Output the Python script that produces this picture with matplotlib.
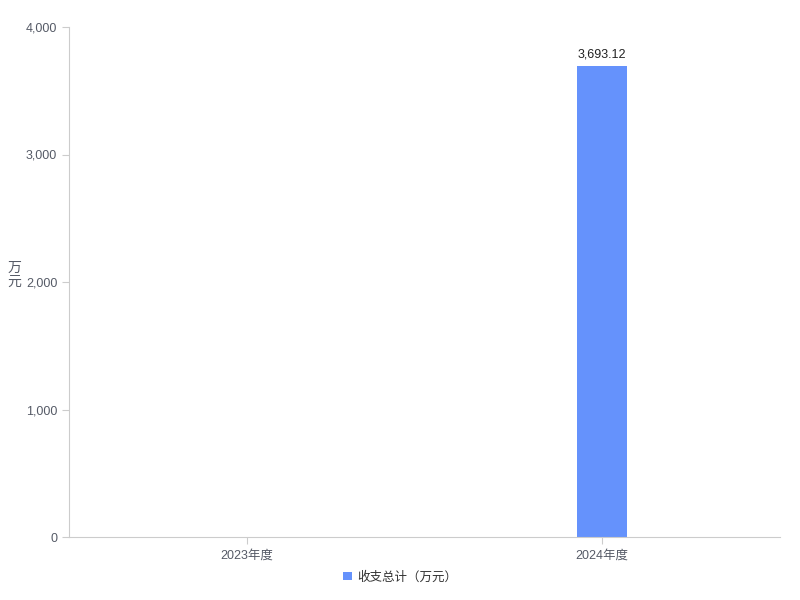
import numpy as np
import matplotlib
matplotlib.use("Agg")
from matplotlib import pyplot as plt
from matplotlib.ticker import FuncFormatter

plt.rcParams['font.family'] = ['Liberation Sans', 'Noto Sans CJK SC', 'DejaVu Sans']

categories = ["2023年度", "2024年度"]
values = [0, 3693.12]
series_name = "收支总计（万元）"
y_ticks = [0, 1000, 2000, 3000, 4000]

bar_color = "#6592fc"
axis_color = "#cccccc"
text_color = "#555a66"

fig = plt.figure(figsize=(8, 6), dpi=100)
ax = fig.add_axes([0.08625, 0.105, 0.88875, 0.85])

x = np.arange(len(categories))
bars = ax.bar(x, values, width=0.14, color=bar_color, label=series_name)

# value label only where there is a bar
for xi, v in zip(x, values):
    if v > 0:
        ax.text(xi, v + 45, f"{v:,.2f}", ha="center", va="bottom",
                fontsize=9, color="#222222")

ax.set_xlim(-0.5, len(categories) - 0.5)
ax.set_ylim(0, 4000)
ax.set_xticks(x)
ax.set_xticklabels(categories, fontsize=9, color=text_color)
ax.set_yticks(y_ticks)
ax.yaxis.set_major_formatter(FuncFormatter(lambda v, p: f"{int(v):,}"))
ax.tick_params(axis="y", labelsize=9, labelcolor=text_color, color=axis_color,
               length=5, width=0.8)
ax.tick_params(axis="x", color=axis_color, length=5, width=0.8, pad=4)

for side in ["top", "right"]:
    ax.spines[side].set_visible(False)
ax.spines["left"].set_color(axis_color)
ax.spines["bottom"].set_color(axis_color)

fig.text(0.018, 0.542, "万\n元", fontsize=10, color=text_color,
         ha="center", va="center", linespacing=1.0)

leg = fig.legend(handles=[bars], labels=[series_name], loc="center",
                 bbox_to_anchor=(0.5, 0.038), frameon=False, fontsize=9,
                 handlelength=0.7, handleheight=0.7, handletextpad=0.4)
for t in leg.get_texts():
    t.set_color("#333333")

fig.savefig("out.png", dpi=100)
